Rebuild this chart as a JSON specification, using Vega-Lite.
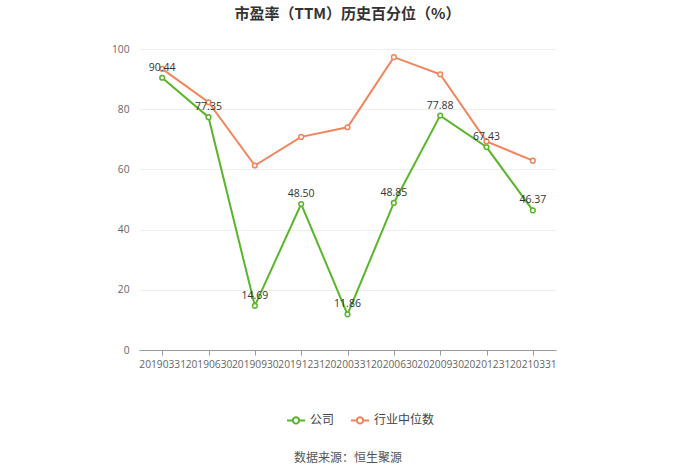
{
  "$schema": "https://vega.github.io/schema/vega-lite/v6.json",
  "width": 417,
  "height": 301,
  "autosize": {"type": "none"},
  "padding": {"left": 139, "top": 49, "right": 144, "bottom": 124},
  "background": "white",
  "config": {
    "font": "Open Sans, Noto Sans CJK SC",
    "view": {"stroke": null}
  },
  "title": {
    "text": "市盈率（TTM）历史百分位（%）",
    "anchor": "middle",
    "fontSize": 15,
    "fontWeight": "bold",
    "color": "#333333",
    "font": "Noto Sans CJK SC",
    "offset": 22
  },
  "data": {
    "values": [
      {"date": "20190331", "series": "公司", "value": 90.44},
      {"date": "20190630", "series": "公司", "value": 77.35},
      {"date": "20190930", "series": "公司", "value": 14.69},
      {"date": "20191231", "series": "公司", "value": 48.50},
      {"date": "20200331", "series": "公司", "value": 11.86},
      {"date": "20200630", "series": "公司", "value": 48.85},
      {"date": "20200930", "series": "公司", "value": 77.88},
      {"date": "20201231", "series": "公司", "value": 67.43},
      {"date": "20210331", "series": "公司", "value": 46.37},
      {"date": "20190331", "series": "行业中位数", "value": 93.4},
      {"date": "20190630", "series": "行业中位数", "value": 82.3},
      {"date": "20190930", "series": "行业中位数", "value": 61.3},
      {"date": "20191231", "series": "行业中位数", "value": 70.8},
      {"date": "20200331", "series": "行业中位数", "value": 74.0},
      {"date": "20200630", "series": "行业中位数", "value": 97.3},
      {"date": "20200930", "series": "行业中位数", "value": 91.6},
      {"date": "20201231", "series": "行业中位数", "value": 69.3},
      {"date": "20210331", "series": "行业中位数", "value": 62.9}
    ]
  },
  "encoding": {
    "x": {
      "field": "date",
      "type": "ordinal",
      "sort": null,
      "scale": {"type": "point", "padding": 0.5},
      "axis": {
        "labelAngle": 0,
        "labelFont": "Open Sans",
        "labelFontSize": 10.2,
        "labelColor": "#666666",
        "labelOverlap": false,
        "labelBound": false,
        "labelPadding": 4,
        "domainColor": "#999999",
        "tickColor": "#999999",
        "tickSize": 5,
        "grid": false,
        "title": "数据来源：恒生聚源",
        "titleFont": "Noto Sans CJK SC",
        "titleFontSize": 12,
        "titleFontWeight": "normal",
        "titleColor": "#555555",
        "titlePadding": 83
      }
    },
    "y": {
      "field": "value",
      "type": "quantitative",
      "scale": {"domain": [0, 100]},
      "axis": {
        "values": [0, 20, 40, 60, 80, 100],
        "title": null,
        "domain": false,
        "ticks": false,
        "labelPadding": 10,
        "labelFont": "Open Sans",
        "labelFontSize": 10.2,
        "labelColor": "#666666",
        "gridColor": "#eeeeee"
      }
    },
    "color": {
      "field": "series",
      "type": "nominal",
      "scale": {"domain": ["公司", "行业中位数"], "range": ["#5ab52b", "#f2845c"]},
      "legend": {
        "orient": "none",
        "legendX": 147,
        "legendY": 361,
        "direction": "horizontal",
        "title": null,
        "symbolType": "M-1,0L-0.35,0M0.35,0L1,0M-0.35,0A0.35,0.35 0 1,0 0.35,0A0.35,0.35 0 1,0 -0.35,0",
        "symbolSize": 324,
        "symbolStrokeWidth": 2,
        "symbolFillColor": "white",
        "labelFont": "Noto Sans CJK SC",
        "labelFontSize": 12,
        "labelColor": "#444444",
        "columnPadding": 12
      }
    }
  },
  "layer": [
    {"mark": {"type": "line", "strokeWidth": 2}},
    {"mark": {"type": "point", "filled": false, "fill": "white", "fillOpacity": 1, "size": 22, "strokeWidth": 1.5, "opacity": 1}},
    {
      "transform": [{"filter": "datum.series === '公司'"}],
      "mark": {"type": "text", "dy": -10, "font": "Open Sans", "fontSize": 10.5, "color": "#333333"},
      "encoding": {
        "text": {"field": "value", "type": "quantitative", "format": ".2f"},
        "color": {"value": "#333333"}
      }
    }
  ]
}
